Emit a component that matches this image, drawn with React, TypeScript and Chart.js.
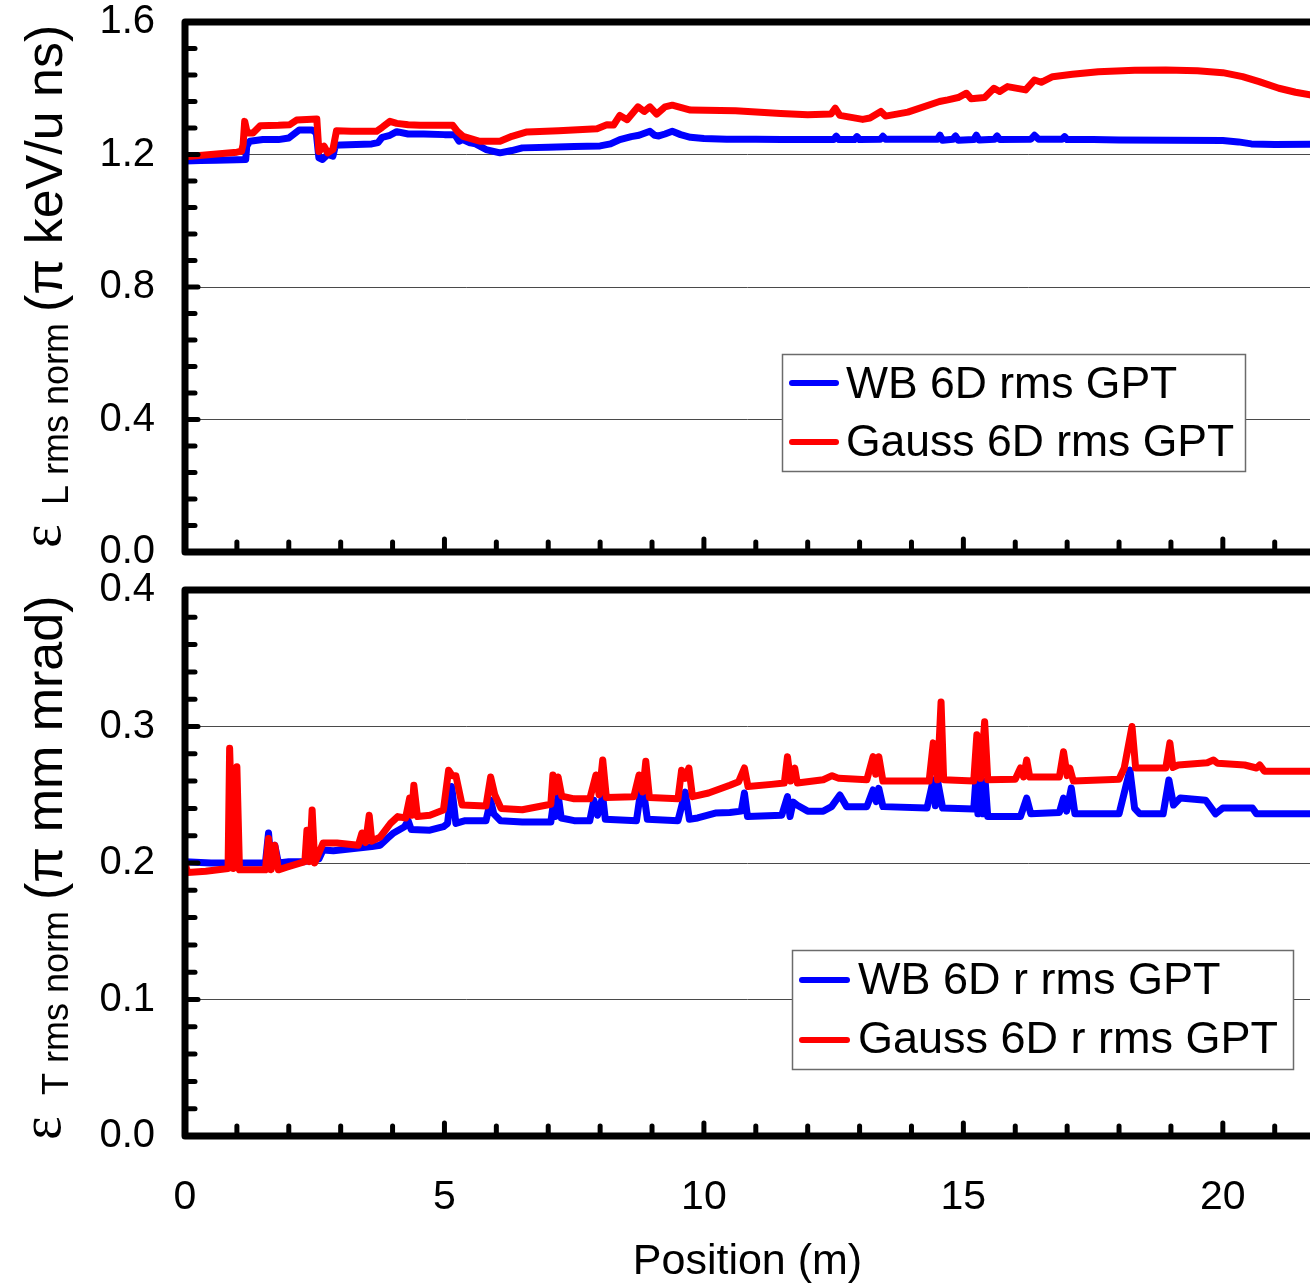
import React, { useEffect, useRef } from "react";
import { Chart, registerables } from "chart.js";

Chart.register(...registerables);

// ---------- tick values ----------
const xTickValues = [0, 5, 10, 15, 20];
const xMax = 21.68;
const topYTickValues = [0, 0.4, 0.8, 1.2, 1.6];
const bottomYTickValues = [0, 0.1, 0.2, 0.3, 0.4];

// ---------- legend labels ----------
const topLabels = ["WB 6D rms GPT", "Gauss 6D rms GPT"];
const bottomLabels = ["WB 6D r rms GPT", "Gauss 6D r rms GPT"];

// ---------- top panel: longitudinal emittance ----------
const topWbX = [0, 0.3, 0.6, 1.0, 1.17, 1.19, 1.25, 1.5, 1.8, 2.0, 2.1, 2.2, 2.45, 2.53, 2.58, 2.65, 2.75, 2.85, 2.9, 3.0, 3.3, 3.6, 3.72, 3.8, 3.95, 4.08, 4.3, 4.6, 5.0, 5.2, 5.28, 5.35, 5.5, 5.6, 5.8, 6.07, 6.3, 6.5, 7.0, 7.5, 8.0, 8.2, 8.38, 8.6, 8.75, 8.96, 9.05, 9.13, 9.25, 9.39, 9.55, 9.74, 10.0, 10.44, 11.0, 11.5, 12.0, 12.5, 12.55, 12.6, 12.9, 12.95, 13.0, 13.4, 13.45, 13.5, 14.0, 14.5, 14.55, 14.6, 14.8, 14.85, 14.9, 15.2, 15.25, 15.3, 15.6, 15.65, 15.7, 16.3, 16.37, 16.45, 16.9, 16.95, 17.0, 17.5, 18.0, 19.0, 20.0, 20.3, 20.55, 21.0, 21.68];
const topWbY = [1.18, 1.182, 1.183, 1.184, 1.185, 1.225, 1.24, 1.245, 1.245, 1.25, 1.262, 1.274, 1.274, 1.265, 1.19, 1.185, 1.2, 1.195, 1.228, 1.229, 1.23, 1.232, 1.236, 1.252, 1.258, 1.269, 1.262, 1.262, 1.26, 1.26, 1.24, 1.245, 1.235, 1.232, 1.215, 1.205, 1.212, 1.22, 1.222, 1.224, 1.226, 1.232, 1.245, 1.254, 1.258, 1.27, 1.258, 1.256, 1.262, 1.27, 1.26, 1.252, 1.248, 1.246, 1.246, 1.245, 1.245, 1.245, 1.255, 1.245, 1.245, 1.254, 1.245, 1.246, 1.255, 1.246, 1.246, 1.246, 1.258, 1.243, 1.246, 1.256, 1.243, 1.245, 1.258, 1.244, 1.246, 1.256, 1.245, 1.246, 1.258, 1.246, 1.246, 1.254, 1.245, 1.245, 1.244, 1.243, 1.242, 1.238, 1.232, 1.23, 1.231];

const topGaussX = [0, 0.5, 1.0, 1.09, 1.12, 1.15, 1.2, 1.31, 1.45, 1.8, 2.02, 2.15, 2.54, 2.58, 2.68, 2.75, 2.85, 2.92, 3.2, 3.69, 3.8, 3.95, 4.08, 4.3, 4.53, 5.16, 5.25, 5.36, 5.68, 6.07, 6.3, 6.59, 7.2, 7.94, 8.13, 8.26, 8.38, 8.52, 8.73, 8.85, 8.96, 9.09, 9.25, 9.39, 9.74, 10.61, 11.48, 12.0, 12.45, 12.53, 12.62, 13.06, 13.2, 13.41, 13.5, 13.93, 14.54, 14.7, 14.9, 15.06, 15.15, 15.41, 15.59, 15.7, 15.85, 16.2, 16.37, 16.5, 16.72, 17.1, 17.6, 18.3, 18.9, 19.51, 20.0, 20.38, 20.7, 21.08, 21.4, 21.68];
const topGaussY = [1.193, 1.2, 1.207, 1.21, 1.23, 1.3, 1.265, 1.265, 1.287, 1.288, 1.29, 1.304, 1.307, 1.209, 1.225, 1.205, 1.215, 1.272, 1.27, 1.27, 1.282, 1.3, 1.294, 1.29, 1.288, 1.288, 1.27, 1.255, 1.24, 1.24, 1.255, 1.268, 1.272, 1.278, 1.29, 1.289, 1.318, 1.305, 1.344, 1.33, 1.344, 1.322, 1.344, 1.349, 1.334, 1.332, 1.324, 1.32, 1.322, 1.34, 1.318, 1.306, 1.31, 1.33, 1.316, 1.328, 1.36, 1.365, 1.372, 1.385, 1.368, 1.372, 1.4, 1.39, 1.405, 1.395, 1.425, 1.418, 1.435, 1.442, 1.45, 1.454, 1.455, 1.453, 1.447, 1.435, 1.42, 1.4, 1.388, 1.38];

// ---------- bottom panel: transverse emittance ----------
const botWbX = [0, 0.5, 1.0, 1.55, 1.61, 1.66, 1.73, 1.8, 2.0, 2.3, 2.58, 2.66, 2.86, 3.34, 3.6, 3.76, 3.9, 4.02, 4.23, 4.3, 4.36, 4.72, 4.98, 5.06, 5.14, 5.22, 5.4, 5.8, 5.89, 5.95, 6.08, 6.5, 7.05, 7.1, 7.14, 7.19, 7.25, 7.5, 7.8, 7.88, 7.95, 8.05, 8.1, 8.7, 8.81, 8.91, 9.5, 9.64, 9.72, 9.88, 10.22, 10.5, 10.72, 10.78, 10.84, 11.5, 11.61, 11.66, 11.72, 11.8, 12.0, 12.3, 12.46, 12.62, 12.75, 13.14, 13.26, 13.32, 13.37, 13.45, 14.3, 14.42, 14.46, 14.5, 14.6, 15.2, 15.24, 15.28, 15.33, 15.38, 15.42, 15.47, 16.1, 16.22, 16.3, 16.85, 16.93, 16.99, 17.08, 17.15, 18.0, 18.13, 18.21, 18.3, 18.4, 18.85, 18.96, 19.05, 19.18, 19.67, 19.86, 20.0, 20.57, 20.65, 21.68];
const botWbY = [0.201, 0.2, 0.2, 0.2, 0.222, 0.199, 0.213, 0.2, 0.201, 0.201, 0.203, 0.2095, 0.209, 0.211, 0.212, 0.213, 0.218, 0.222, 0.2266, 0.231, 0.2245, 0.224, 0.2266, 0.229, 0.256, 0.229, 0.231, 0.231, 0.246, 0.236, 0.231, 0.23, 0.23, 0.244, 0.234, 0.25, 0.233, 0.231, 0.231, 0.246, 0.235, 0.2486, 0.232, 0.231, 0.26, 0.232, 0.231, 0.252, 0.232, 0.233, 0.2366, 0.237, 0.238, 0.2513, 0.234, 0.235, 0.2486, 0.234, 0.2446, 0.2423, 0.238, 0.238, 0.2413, 0.2498, 0.2413, 0.2413, 0.2535, 0.245, 0.2547, 0.2413, 0.2403, 0.2608, 0.242, 0.2608, 0.2403, 0.2395, 0.2608, 0.236, 0.26, 0.236, 0.26, 0.234, 0.234, 0.2476, 0.236, 0.237, 0.2476, 0.238, 0.255, 0.236, 0.236, 0.256, 0.268, 0.24, 0.236, 0.236, 0.2608, 0.2425, 0.2476, 0.246, 0.236, 0.2403, 0.2403, 0.236, 0.236];

const botGaussX = [0, 0.05, 0.4, 0.83, 0.86, 0.93, 1.0, 1.05, 1.3, 1.55, 1.61, 1.66, 1.73, 1.8, 1.96, 2.31, 2.35, 2.4, 2.45, 2.5, 2.66, 2.93, 3.34, 3.41, 3.48, 3.55, 3.6, 3.76, 3.96, 4.1, 4.25, 4.33, 4.37, 4.41, 4.48, 4.72, 4.98, 5.08, 5.15, 5.22, 5.34, 5.8, 5.89, 5.97, 6.09, 6.5, 7.05, 7.09, 7.14, 7.19, 7.26, 7.5, 7.8, 7.92, 7.98, 8.05, 8.12, 8.65, 8.75, 8.82, 8.88, 8.95, 9.5, 9.57, 9.64, 9.71, 9.78, 10.09, 10.5, 10.67, 10.78, 10.85, 11.3, 11.55, 11.61, 11.67, 11.75, 11.8, 12.3, 12.47, 12.6, 13.14, 13.26, 13.31, 13.37, 13.45, 14.34, 14.42, 14.5, 14.57, 14.62, 15.2, 15.26, 15.33, 15.41, 15.47, 16.0, 16.1, 16.16, 16.22, 16.28, 16.85, 16.93, 17.0, 17.05, 17.12, 18.0, 18.1, 18.25, 18.32, 18.9, 18.98, 19.04, 19.14, 19.7, 19.82, 19.9, 20.42, 20.65, 20.71, 20.8, 21.68];
const botGaussY = [0.2, 0.193, 0.194, 0.196, 0.284, 0.196, 0.2705, 0.195, 0.195, 0.195, 0.218, 0.195, 0.213, 0.195, 0.197, 0.201, 0.224, 0.201, 0.2388, 0.2, 0.2146, 0.2146, 0.213, 0.222, 0.215, 0.235, 0.216, 0.219, 0.229, 0.234, 0.233, 0.2476, 0.235, 0.257, 0.234, 0.235, 0.2388, 0.268, 0.264, 0.264, 0.2425, 0.2418, 0.263, 0.25, 0.24, 0.239, 0.243, 0.2645, 0.252, 0.263, 0.249, 0.247, 0.247, 0.2645, 0.25, 0.2755, 0.248, 0.2486, 0.2645, 0.252, 0.2745, 0.248, 0.247, 0.268, 0.262, 0.2696, 0.2486, 0.2513, 0.257, 0.2596, 0.2696, 0.256, 0.2576, 0.2586, 0.2779, 0.26, 0.2696, 0.2586, 0.261, 0.264, 0.262, 0.261, 0.2779, 0.265, 0.2779, 0.26, 0.26, 0.288, 0.261, 0.318, 0.261, 0.26, 0.294, 0.262, 0.3035, 0.261, 0.2613, 0.2696, 0.263, 0.2755, 0.263, 0.263, 0.2815, 0.264, 0.2696, 0.26, 0.2613, 0.2696, 0.3, 0.2696, 0.2696, 0.288, 0.27, 0.2718, 0.2735, 0.2755, 0.273, 0.2718, 0.2696, 0.2718, 0.2673, 0.2673];

const FONT = "'Liberation Sans', Arial, Helvetica, sans-serif";
const SERIF = "'Liberation Serif', 'DejaVu Serif', serif";
const BLUE = "#0000ff";
const RED = "#ff0000";

function pairs(xs: number[], ys: number[]) {
  return xs.map((x, i) => ({ x, y: ys[i] }));
}

type Seg = { text: string; font: string; startY: number; baseX: number };
type Decor = {
  xMinorStep: number;
  xMajorEvery: number;
  yMinorStep: number;
  yMajorEvery: number;
  legend: {
    x: number; y: number; w: number; h: number;
    rowY: number[]; textY: number[];
    lineX0: number; lineX1: number; textX: number; fontSize: number;
  };
  title: Seg[];
};

function decorPlugin(d: Decor) {
  return {
    id: "decor",
    afterDraw(chart: any) {
      const ctx: CanvasRenderingContext2D = chart.ctx;
      const { left, right, top, bottom } = chart.chartArea;
      const xs = chart.scales.x;
      const ys = chart.scales.y;
      ctx.save();

      // legend
      const L = d.legend;
      ctx.fillStyle = "#ffffff";
      ctx.fillRect(L.x, L.y, L.w, L.h);
      ctx.strokeStyle = "#6b6b6b";
      ctx.lineWidth = 1.5;
      ctx.strokeRect(L.x + 0.5, L.y + 0.5, L.w, L.h);
      chart.data.datasets.forEach((ds: any, i: number) => {
        ctx.strokeStyle = ds.borderColor;
        ctx.lineWidth = 6;
        ctx.lineCap = "round";
        ctx.beginPath();
        ctx.moveTo(L.lineX0, L.rowY[i]);
        ctx.lineTo(L.lineX1, L.rowY[i]);
        ctx.stroke();
        ctx.fillStyle = "#000";
        ctx.font = `${L.fontSize}px ${FONT}`;
        ctx.textBaseline = "middle";
        ctx.textAlign = "left";
        ctx.fillText(ds.label, L.textX, L.textY[i]);
      });

      // inward tick marks
      ctx.strokeStyle = "#000";
      ctx.lineCap = "round";
      ctx.lineWidth = 5;
      const nx = Math.floor(xs.max / d.xMinorStep + 1e-9);
      for (let i = 1; i <= nx; i++) {
        const px = xs.getPixelForValue(i * d.xMinorStep);
        if (px > right - 3) continue;
        const len = i % d.xMajorEvery === 0 ? 13 : 10;
        ctx.beginPath();
        ctx.moveTo(px, bottom);
        ctx.lineTo(px, bottom - len);
        ctx.stroke();
      }
      const ny = Math.round(ys.max / d.yMinorStep);
      for (let i = 1; i < ny; i++) {
        const py = ys.getPixelForValue(i * d.yMinorStep);
        const len = i % d.yMajorEvery === 0 ? 13 : 10;
        ctx.beginPath();
        ctx.moveTo(left, py);
        ctx.lineTo(left + len, py);
        ctx.stroke();
      }

      // frame: top, left, bottom
      ctx.lineWidth = 7;
      ctx.lineJoin = "round";
      ctx.beginPath();
      ctx.moveTo(right + 20, top);
      ctx.lineTo(left, top);
      ctx.lineTo(left, bottom);
      ctx.lineTo(right + 20, bottom);
      ctx.stroke();

      // rotated y-axis title with subscript
      ctx.fillStyle = "#000";
      ctx.textAlign = "left";
      ctx.textBaseline = "alphabetic";
      d.title.forEach((s) => {
        ctx.save();
        ctx.translate(s.baseX, s.startY);
        ctx.rotate(-Math.PI / 2);
        ctx.font = s.font;
        ctx.fillText(s.text, 0, 0);
        ctx.restore();
      });

      ctx.restore();
    },
  };
}

function yScale(ticks: number[], max: number) {
  return {
    type: "linear" as const,
    min: 0,
    max,
    afterBuildTicks: (scale: any) => {
      scale.ticks = ticks.map((v) => ({ value: v }));
    },
    afterFit: (scale: any) => {
      scale.width = 185;
      scale.paddingTop = 0;
      scale.paddingBottom = 0;
    },
    border: { display: false },
    grid: { color: "#4a4a4a", lineWidth: 1, drawTicks: false },
    ticks: {
      color: "#000",
      padding: 30,
      font: { family: FONT, size: 40 },
      callback: (v: any) => Number(v).toFixed(1),
    },
  };
}

function xScale(showLabels: boolean, height: number) {
  return {
    type: "linear" as const,
    min: 0,
    max: xMax,
    afterBuildTicks: (scale: any) => {
      scale.ticks = xTickValues.map((v) => ({ value: v }));
    },
    afterFit: (scale: any) => {
      scale.height = height;
      scale.paddingLeft = 0;
      scale.paddingRight = 0;
    },
    border: { display: false },
    grid: { display: false, drawTicks: false },
    ticks: {
      display: showLabels,
      color: "#000",
      padding: 37,
      maxRotation: 0,
      font: { family: FONT, size: 41 },
      callback: (v: any) => String(v),
    },
    title: {
      display: showLabels,
      text: "Position (m)",
      color: "#000",
      font: { family: FONT, size: 43, lineHeight: 1.1 },
      padding: { top: 0, bottom: 0 },
    },
  };
}

function datasets(labels: string[], wb: { x: number; y: number }[], ga: { x: number; y: number }[]) {
  const common = {
    borderWidth: 7,
    pointRadius: 0,
    tension: 0,
    borderJoinStyle: "round" as const,
    borderCapStyle: "round" as const,
    fill: false,
  };
  return [
    { ...common, label: labels[0], data: wb, borderColor: BLUE, backgroundColor: BLUE, order: 2 },
    { ...common, label: labels[1], data: ga, borderColor: RED, backgroundColor: RED, order: 1 },
  ];
}

export default function App() {
  const topRef = useRef<HTMLCanvasElement | null>(null);
  const botRef = useRef<HTMLCanvasElement | null>(null);

  useEffect(() => {
    if (!topRef.current || !botRef.current) return;
    const baseOpts = {
      animation: false as const,
      responsive: false,
      maintainAspectRatio: false,
      devicePixelRatio: 1,
      events: [] as any[],
      plugins: { legend: { display: false }, tooltip: { enabled: false } },
    };

    const top = new Chart(topRef.current, {
      type: "line",
      data: { datasets: datasets(topLabels, pairs(topWbX, topWbY), pairs(topGaussX, topGaussY)) as any },
      options: {
        ...baseOpts,
        layout: { padding: { top: 22, left: 0, right: 0, bottom: 0 } },
        scales: { x: xScale(false, 18) as any, y: yScale(topYTickValues, 1.6) as any },
      } as any,
      plugins: [
        decorPlugin({
          xMinorStep: 1,
          xMajorEvery: 5,
          yMinorStep: 0.08,
          yMajorEvery: 5,
          legend: { x: 782, y: 354, w: 463, h: 117, rowY: [383, 442], textY: [386, 444], lineX0: 792, lineX1: 836, textX: 846, fontSize: 44.5 },
          title: [
            { text: "ε", font: `56px ${SERIF}`, startY: 548, baseX: 60 },
            { text: "L rms norm", font: `36px ${FONT}`, startY: 505, baseX: 68 },
            { text: "(π keV/u ns)", font: `52px ${FONT}`, startY: 312, baseX: 62 },
          ],
        }) as any,
      ],
    });

    const bot = new Chart(botRef.current, {
      type: "line",
      data: { datasets: datasets(bottomLabels, pairs(botWbX, botWbY), pairs(botGaussX, botGaussY)) as any },
      options: {
        ...baseOpts,
        layout: { padding: { top: 20, left: 0, right: 0, bottom: 0 } },
        scales: { x: xScale(true, 150) as any, y: yScale(bottomYTickValues, 0.4) as any },
      } as any,
      plugins: [
        decorPlugin({
          xMinorStep: 1,
          xMajorEvery: 5,
          yMinorStep: 0.02,
          yMajorEvery: 5,
          legend: { x: 792, y: 380, w: 501, h: 119, rowY: [410, 470], textY: [412, 471], lineX0: 802, lineX1: 847, textX: 858, fontSize: 45 },
          title: [
            { text: "ε", font: `56px ${SERIF}`, startY: 570, baseX: 60 },
            { text: "T rms norm", font: `36px ${FONT}`, startY: 525, baseX: 68 },
            { text: "(π mm mrad)", font: `52px ${FONT}`, startY: 330, baseX: 62 },
          ],
        }) as any,
      ],
    });

    return () => {
      top.destroy();
      bot.destroy();
    };
  }, []);

  return (
    <div style={{ position: "absolute", left: 0, top: 0, width: 1310, height: 1286, background: "#fff", overflow: "hidden" }}>
      <canvas ref={topRef} width={1310} height={570} style={{ display: "block", width: 1310, height: 570 }} />
      <canvas ref={botRef} width={1310} height={716} style={{ display: "block", width: 1310, height: 716 }} />
    </div>
  );
}
